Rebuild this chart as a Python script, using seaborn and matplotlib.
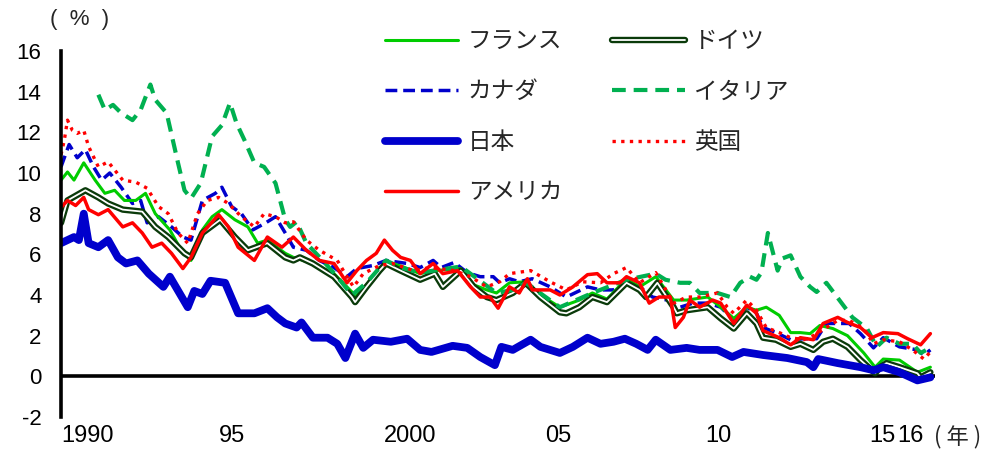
import numpy as np
import pandas as pd
import matplotlib
matplotlib.use("Agg")
import matplotlib.pyplot as plt
import matplotlib.patheffects as pe
import seaborn as sns

# 長期金利（10年物国債利回り）、年は小数で表す
france_t = [1990.0, 1990.2, 1990.4, 1990.7, 1991.05, 1991.35, 1991.65, 1991.95, 1992.3, 1992.6, 1992.9, 1993.35,
            1993.7, 1994.0, 1994.35, 1994.65, 1994.95, 1995.35, 1995.75, 1996.05, 1996.35, 1996.9, 1997.15, 1997.75,
            1998.4, 1998.95, 1999.05, 1999.4, 1999.8, 2000.1, 2000.5, 2001.05, 2001.5, 2002.3, 2002.7, 2003.1, 2003.4,
            2003.8, 2004.3, 2004.75, 2005.35, 2005.95, 2006.35, 2006.8, 2007.4, 2007.8, 2008.3, 2008.85, 2009.25,
            2009.9, 2010.3, 2010.7, 2011.1, 2011.4, 2011.7, 2012.1, 2012.45, 2012.75, 2013.05, 2013.35, 2013.75,
            2014.2, 2014.7, 2015.05, 2015.3, 2015.8, 2016.35, 2016.75]
france_v = [9.65, 10.05, 9.65, 10.5, 9.65, 9.0, 9.15, 8.65, 8.65, 9.0, 8.0, 7.2,
            6.2, 5.7, 7.2, 7.85, 8.2, 7.7, 7.35, 6.55, 6.7, 6.05, 5.85, 5.55,
            5.05, 4.15, 3.9, 4.5, 5.35, 5.6, 5.4, 5.05, 5.2, 5.3, 4.5, 4.25, 4.1,
            4.6, 4.65, 4.0, 3.4, 3.75, 4.1, 3.8, 4.8, 4.4, 4.9, 3.75, 3.75,
            3.9, 3.4, 2.85, 3.4, 3.25, 3.4, 3.0, 2.15, 2.15, 2.1, 2.5, 2.35,
            2.0, 1.15, 0.45, 0.85, 0.8, 0.2, 0.45]

germany_t = [1990.0, 1990.2, 1990.75, 1991.15, 1991.45, 1991.9, 1992.5, 1992.9, 1993.3, 1993.8, 1994.0, 1994.35,
             1994.9, 1995.35, 1995.75, 1996.35, 1996.9, 1997.15, 1997.35, 1997.75, 1998.4, 1998.95, 1999.05, 1999.4,
             1999.8, 2000.0, 2000.45, 2001.05, 2001.5, 2001.75, 2002.3, 2002.7, 2003.1, 2003.4, 2003.9, 2004.3,
             2004.75, 2005.35, 2005.55, 2005.95, 2006.35, 2006.8, 2007.4, 2007.8, 2008.0, 2008.35, 2008.85, 2008.95,
             2009.25, 2009.9, 2010.3, 2010.7, 2011.1, 2011.4, 2011.6, 2012.0, 2012.45, 2012.75, 2013.15, 2013.45,
             2013.75, 2014.2, 2014.6, 2015.05, 2015.2, 2015.4, 2015.8, 2016.35, 2016.45, 2016.75]
germany_v = [7.55, 8.65, 9.15, 8.8, 8.5, 8.2, 8.1, 7.35, 6.85, 6.05, 5.85, 7.05,
             7.7, 6.85, 6.2, 6.55, 5.85, 5.7, 5.85, 5.55, 4.9, 3.9, 3.65, 4.4,
             5.2, 5.55, 5.2, 4.75, 5.05, 4.4, 5.2, 4.4, 3.9, 3.75, 4.1, 4.6,
             3.9, 3.15, 3.1, 3.4, 3.9, 3.65, 4.6, 4.25, 3.9, 4.6, 3.4, 3.1,
             3.25, 3.4, 2.85, 2.35, 3.1, 2.6, 1.9, 1.8, 1.45, 1.6, 1.3, 1.7,
             1.85, 1.45, 0.8, 0.15, 0.45, 0.65, 0.45, 0.15, -0.05, 0.2]

canada_t = [1990.0, 1990.25, 1990.5, 1990.75, 1991.0, 1991.25, 1991.5, 1991.85, 1992.2, 1992.45, 1992.65, 1993.0,
            1993.4, 1993.75, 1994.0, 1994.35, 1994.75, 1994.95, 1995.25, 1995.55, 1995.9, 1996.3, 1996.6, 1996.9,
            1997.15, 1997.55, 1997.95, 1998.4, 1998.8, 1999.1, 1999.6, 2000.0, 2000.65, 2001.05, 2001.45, 2001.7,
            2002.1, 2002.5, 2002.9, 2003.3, 2003.5, 2003.8, 2004.1, 2004.5, 2005.05, 2005.55, 2006.2, 2006.6,
            2007.0, 2007.4, 2007.8, 2008.2, 2008.65, 2009.05, 2009.45, 2009.9, 2010.3, 2010.7, 2011.1, 2011.4,
            2011.6, 2012.0, 2012.45, 2012.85, 2013.25, 2013.55, 2013.85, 2014.25, 2014.6, 2015.0, 2015.3, 2015.8,
            2016.35, 2016.55, 2016.75]
canada_v = [10.3, 11.4, 10.75, 11.15, 10.3, 9.65, 10.0, 9.3, 8.5, 8.65, 7.55, 7.85,
            7.35, 6.85, 6.7, 8.65, 9.0, 9.3, 8.35, 8.0, 7.2, 7.55, 7.85, 7.05,
            6.35, 6.2, 5.7, 5.35, 4.9, 5.3, 5.45, 5.7, 5.55, 5.35, 5.7, 5.35,
            5.6, 5.1, 4.9, 4.9, 4.6, 4.8, 4.65, 4.8, 4.4, 3.9, 4.4, 4.25,
            4.25, 4.75, 4.4, 3.9, 3.75, 3.4, 3.6, 3.6, 3.4, 2.75, 3.4, 3.1,
            2.4, 2.15, 1.8, 1.85, 1.85, 2.6, 2.6, 2.6, 2.1, 1.4, 1.9, 1.45,
            1.3, 1.05, 1.3]

italy_t = [1991.15, 1991.35, 1991.6, 1991.85, 1992.2, 1992.45, 1992.75, 1992.9, 1993.25, 1993.6, 1993.8, 1994.0,
           1994.3, 1994.65, 1994.95, 1995.2, 1995.4, 1995.65, 1995.95, 1996.25, 1996.6, 1996.75, 1996.9, 1997.05,
           1997.25, 1997.55, 1998.05, 1998.5, 1998.95, 1999.4, 2000.0, 2000.45, 2001.05, 2002.3, 2003.4, 2003.9,
           2004.3, 2005.35, 2006.35, 2007.4, 2008.3, 2008.6, 2009.05, 2009.35, 2009.65, 2010.2, 2010.6, 2010.9,
           2011.2, 2011.4, 2011.55, 2011.75, 2012.05, 2012.2, 2012.45, 2012.75, 2013.05, 2013.25, 2013.55, 2013.95,
           2014.35, 2014.8, 2015.1, 2015.4, 2015.8, 2016.2, 2016.45, 2016.75]
italy_v = [13.85, 13.1, 13.35, 12.95, 12.6, 13.1, 14.35, 13.6, 12.95, 10.5, 9.15, 8.75,
           9.5, 11.8, 12.35, 13.45, 12.45, 11.6, 10.5, 10.3, 9.5, 8.6, 7.7, 7.35,
           7.6, 6.55, 5.7, 4.9, 4.0, 4.6, 5.7, 5.35, 5.1, 5.4, 4.1, 4.25,
           4.6, 3.4, 4.1, 4.75, 5.05, 4.75, 4.6, 4.6, 4.1, 4.1, 3.9, 4.6,
           4.9, 4.75, 5.1, 7.05, 5.2, 5.8, 5.95, 4.9, 4.4, 4.15, 4.6, 3.75,
           2.9, 2.35, 1.45, 1.9, 1.6, 1.6, 1.15, 1.4]

japan_t = [1990.0, 1990.4, 1990.55, 1990.7, 1990.85, 1991.15, 1991.45, 1991.75, 1992.0, 1992.35, 1992.7, 1993.15,
           1993.35, 1993.9, 1994.1, 1994.35, 1994.6, 1995.05, 1995.45, 1995.65, 1995.95, 1996.35, 1996.65, 1996.9,
           1997.25, 1997.4, 1997.75, 1998.2, 1998.5, 1998.75, 1999.05, 1999.3, 1999.6, 2000.15, 2000.65, 2001.05,
           2001.4, 2002.05, 2002.5, 2002.9, 2003.35, 2003.55, 2003.9, 2004.45, 2004.75, 2005.35, 2005.75, 2006.2,
           2006.6, 2007.0, 2007.35, 2007.7, 2008.05, 2008.3, 2008.75, 2009.25, 2009.65, 2010.2, 2010.65, 2011.0,
           2011.6, 2012.35, 2012.95, 2013.15, 2013.3, 2013.9, 2014.6, 2015.0, 2015.3, 2015.8, 2016.35, 2016.75]
japan_v = [6.55, 6.85, 6.7, 8.0, 6.55, 6.35, 6.7, 5.85, 5.55, 5.7, 5.05, 4.4,
           4.9, 3.4, 4.2, 4.05, 4.7, 4.6, 3.1, 3.1, 3.1, 3.35, 2.9, 2.6,
           2.4, 2.65, 1.9, 1.9, 1.6, 0.9, 2.1, 1.4, 1.8, 1.7, 1.85, 1.3,
           1.2, 1.5, 1.4, 0.95, 0.55, 1.45, 1.3, 1.8, 1.45, 1.15, 1.45, 1.9,
           1.6, 1.7, 1.85, 1.6, 1.3, 1.8, 1.3, 1.4, 1.3, 1.3, 0.95, 1.2,
           1.05, 0.9, 0.7, 0.45, 0.85, 0.65, 0.45, 0.3, 0.45, 0.2, -0.2, -0.05]

uk_t = [1990.0, 1990.1, 1990.2, 1990.35, 1990.5, 1990.7, 1990.85, 1991.15, 1991.45, 1991.9, 1992.3, 1992.65,
        1993.0, 1993.3, 1993.6, 1993.9, 1994.2, 1994.5, 1994.85, 1995.15, 1995.55, 1995.95, 1996.25, 1996.6,
        1996.9, 1997.15, 1997.55, 1997.95, 1998.5, 1998.8, 1999.0, 1999.3, 1999.8, 2000.2, 2000.85, 2001.35,
        2002.1, 2002.6, 2003.1, 2003.5, 2003.8, 2004.45, 2005.05, 2005.55, 2006.05, 2006.6, 2007.0, 2007.4,
        2007.8, 2008.3, 2008.85, 2009.25, 2009.65, 2010.2, 2010.5, 2010.7, 2011.1, 2011.4, 2011.7, 2012.1,
        2012.45, 2012.85, 2013.15, 2013.55, 2013.9, 2014.25, 2014.7, 2015.0, 2015.3, 2015.8, 2016.2, 2016.55,
        2016.75]
uk_v = [10.9, 11.6, 12.6, 12.1, 11.95, 12.1, 11.3, 10.3, 10.55, 9.65, 9.55, 9.25,
        8.35, 8.0, 7.05, 6.55, 8.0, 8.65, 8.8, 8.5, 7.85, 7.35, 8.0, 7.85,
        7.55, 7.6, 6.7, 6.2, 5.7, 4.9, 4.4, 5.05, 5.45, 5.55, 5.2, 5.35,
        5.2, 4.9, 4.4, 4.65, 5.05, 5.2, 4.65, 4.25, 4.65, 4.6, 5.05, 5.35,
        4.6, 5.1, 3.6, 3.9, 3.9, 4.1, 3.4, 3.1, 3.75, 3.25, 2.4, 2.15,
        1.9, 1.8, 2.0, 2.4, 2.75, 2.75, 2.35, 1.6, 1.8, 1.7, 1.3, 0.85,
        1.2]

us_t = [1990.0, 1990.2, 1990.45, 1990.7, 1990.85, 1991.15, 1991.45, 1991.9, 1992.2, 1992.5, 1992.8, 1993.1,
        1993.4, 1993.75, 1994.0, 1994.35, 1994.85, 1995.15, 1995.45, 1995.95, 1996.35, 1996.8, 1997.15, 1997.55,
        1997.95, 1998.4, 1998.8, 1999.1, 1999.4, 1999.7, 1999.95, 2000.2, 2000.45, 2000.75, 2001.05, 2001.45,
        2001.75, 2002.2, 2002.6, 2002.9, 2003.2, 2003.45, 2003.8, 2004.1, 2004.35, 2004.5, 2005.05, 2005.35,
        2005.75, 2006.2, 2006.5, 2006.8, 2007.2, 2007.4, 2007.8, 2008.1, 2008.4, 2008.75, 2008.9, 2009.15,
        2009.35, 2009.65, 2010.05, 2010.3, 2010.7, 2011.1, 2011.4, 2011.6, 2012.1, 2012.45, 2012.75, 2013.15,
        2013.45, 2013.9, 2014.2, 2014.6, 2014.95, 2015.3, 2015.75, 2016.05, 2016.45, 2016.75]
us_v = [8.3, 8.65, 8.4, 8.8, 8.2, 7.95, 8.2, 7.35, 7.55, 7.05, 6.35, 6.55,
        6.05, 5.3, 5.85, 7.05, 7.95, 7.35, 6.35, 5.7, 6.85, 6.35, 6.85, 6.2,
        5.7, 5.55, 4.6, 5.2, 5.7, 6.05, 6.7, 6.2, 5.85, 5.7, 5.05, 5.55,
        5.05, 5.2, 4.4, 3.9, 3.9, 3.35, 4.4, 4.1, 4.8, 4.25, 4.25, 4.0,
        4.4, 5.0, 5.05, 4.6, 4.6, 4.9, 4.6, 3.6, 3.9, 3.9, 2.4, 2.9,
        3.75, 3.4, 3.75, 3.6, 2.6, 3.5, 3.1, 2.25, 1.9, 1.55, 1.9, 1.8,
        2.6, 2.9, 2.65, 2.4, 1.9, 2.15, 2.1, 1.85, 1.55, 2.1]

xtick_pos = [1990.83, 1995.26, 2000.74, 2005.29, 2010.22, 2015.26, 2016.15]
xtick_labels = ["1990", "95", "2000", "05", "10", "15", "16"]
yticks = np.arange(-2, 17, 2)

sns.set_style("white")
plt.rcParams['font.family'] = ['Liberation Sans', 'Noto Sans CJK JP']

fig = plt.figure(figsize=(9.93, 4.49), dpi=100)
ax = fig.add_axes([61 / 993, 32 / 449, 874 / 993, 366 / 449])

handles = {}

def draw(name, t, v, **kw):
    df = pd.DataFrame({"year": t, "rate": v})
    sns.lineplot(data=df, x="year", y="rate", ax=ax, **kw)
    handles[name] = ax.lines[-1]

draw("カナダ", canada_t, canada_v, color="#0000cc", lw=2.5, linestyle=(0, (3.4, 1.7)))
draw("フランス", france_t, france_v, color="#00cc00", lw=2.2)
draw("ドイツ", germany_t, germany_v, color="white", lw=1.3,
     path_effects=[pe.Stroke(linewidth=4.6, foreground="#0a3a0a"), pe.Normal()])
draw("イタリア", italy_t, italy_v, color="#00b050", lw=3.0, linestyle=(0, (3.3, 1.9)))
draw("英国", uk_t, uk_v, color="#ff0000", lw=2.4, linestyle=(0, (1, 1.6)))
draw("日本", japan_t, japan_v, color="#0000cc", lw=5.6, solid_capstyle="round")
draw("アメリカ", us_t, us_v, color="#ff0000", lw=2.5)

ax.axhline(0, color="black", lw=2.6, zorder=1)

ax.set_xlim(1990.0, 1990.0 + 874 / 32.5)
ax.set_ylim(-2, 16)
ax.set_yticks(yticks, [str(y) for y in yticks])
ax.set_xticks(xtick_pos, xtick_labels)
ax.tick_params(axis="y", direction="in", length=6, width=2, pad=14, labelsize=16, colors="black")
ax.tick_params(axis="x", length=0, pad=6, labelsize=17, colors="black")
ax.set_xlabel("")
ax.set_ylabel("")
for s in ["top", "right", "bottom"]:
    ax.spines[s].set_visible(False)
ax.spines["left"].set_linewidth(2.6)
ax.spines["left"].set_color("black")

order = ["フランス", "カナダ", "日本", "アメリカ", "ドイツ", "イタリア", "英国"]
fig.legend([handles[k] for k in order], order, loc="upper left",
           bbox_to_anchor=(385 / 993, 1 - 30 / 449), ncol=2, frameon=False,
           prop={"family": ["Noto Sans CJK JP"], "size": 17},
           handlelength=3.1, handletextpad=0.4, columnspacing=2.1,
           labelspacing=1.16, borderpad=0, borderaxespad=0)

fig.text(80 / 993, 1 - 20 / 449, "(  %  )", ha="center", va="center", fontsize=16)
fig.text(958 / 993, 1 - 437 / 449, "( 年 )", ha="center", va="center", fontsize=16,
         family=["Noto Sans CJK JP", "Liberation Sans"])

fig.savefig("out.png", dpi=100, facecolor="white")
